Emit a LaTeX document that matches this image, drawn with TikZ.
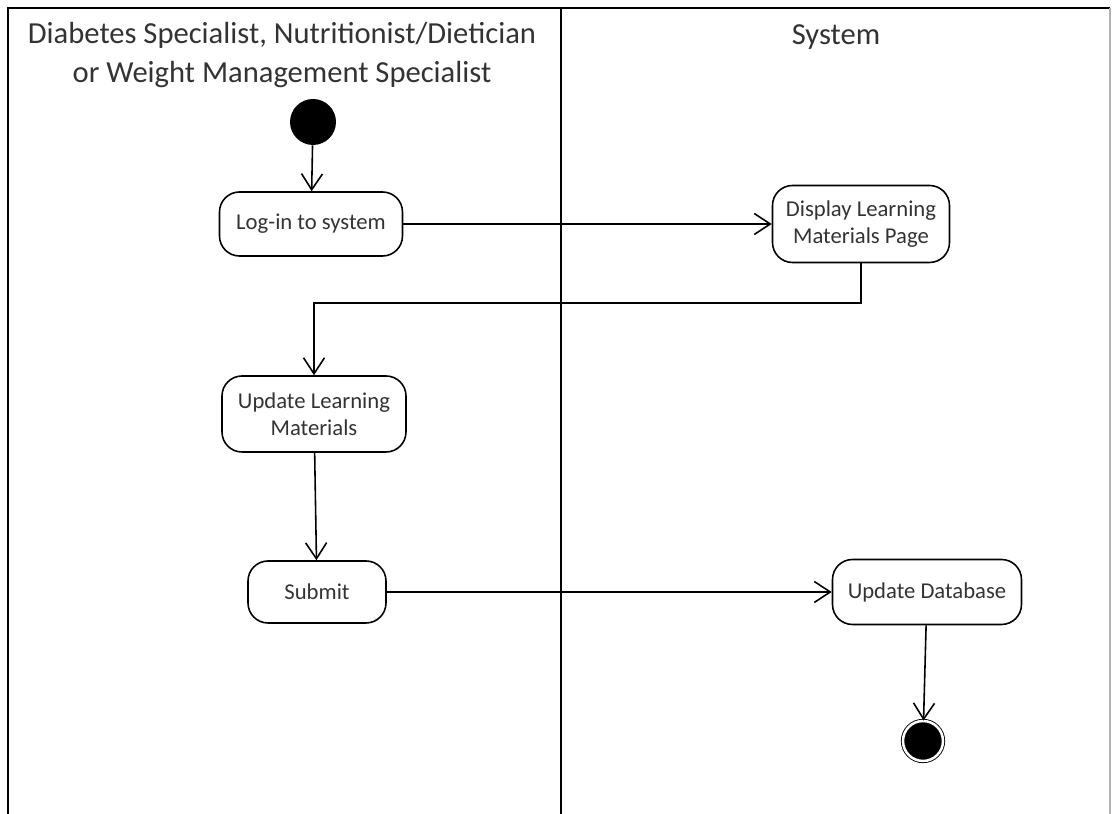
\documentclass[tikz,border=0pt]{standalone}
\usepackage{fontspec}
\setmainfont{Carlito}
\usetikzlibrary{positioning}
\usetikzlibrary{arrows.meta}
\tikzset{
heavy/.style={line width=0.9pt},
activity/.style={draw,rounded corners=0.4cm,align=center,inner sep=2pt,heavy,text=black!80,font=\fontsize{12.9}{15.5}\selectfont},
initial/.style={circle,fill=black,minimum size=0.92cm,inner sep=0pt},
final/.style={circle,fill=black,draw=black,line width=0.5pt,double=white,double distance=0.05cm,minimum size=0.8cm,inner sep=0pt},
flow/.style={-{Straight Barb[length=0.32cm,width=0.42cm]},heavy},
lane/.style={line width=1.1pt},
}
\begin{document}
\begin{tikzpicture}
\useasboundingbox (0,0) rectangle (22.24,16.28);
%Swimlanes
\draw[lane] (0.16,0) -- (0.16,16.12) -- (22.2,16.12);
\draw[black!30, line width=0.6pt] (22.2,16.12) -- (22.2,0);
\draw[lane] (11.22,16.12) -- (11.22,0);
\node[align=center,text=black!80,font=\fontsize{17.4}{22.4}\selectfont] (actor) at (5.64,15.18) {Diabetes Specialist, Nutritionist/Dietician\\or Weight Management Specialist};
\node[text=black!80,font=\fontsize{17.4}{22.4}\selectfont] (sys) at (16.72,15.54) {System};

%Place the nodes
\node[initial] (start) at (6.26,13.84) {};
\node[activity,minimum width=3.66cm,minimum height=1.28cm] (login) at (6.22,11.8) {Log-in to system};
\node[activity,minimum width=3.54cm,minimum height=1.54cm] (display) at (17.22,11.8) {Display Learning\\Materials Page};
\node[activity,minimum width=3.68cm,minimum height=1.52cm] (update) at (6.28,8.0) {Update Learning\\Materials};
\node[activity,minimum width=2.76cm,minimum height=1.24cm] (submit) at (6.34,4.44) {Submit};
\node[activity,minimum width=3.78cm,minimum height=1.3cm] (db) at (18.54,4.44) {Update Database};
\node[final] (end) at (18.46,1.46) {};

%Flows
\draw[flow] (start) -- (login);
\draw[flow] (login) -- (display);
\draw[flow] (display.south) -- ++(0,-0.8) -| (update.north);
\draw[flow] (update) -- (submit);
\draw[flow] (submit) -- (db);
\draw[flow] (db) -- (end);

\end{tikzpicture}
\end{document}
